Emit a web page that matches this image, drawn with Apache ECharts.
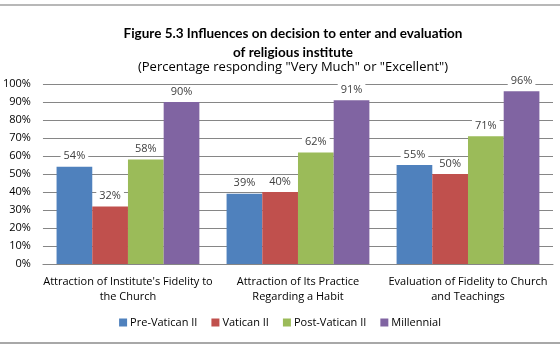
<!DOCTYPE html>
<html>
<head>
<meta charset="utf-8">
<script src="https://cdn.jsdelivr.net/npm/echarts@6/dist/echarts.min.js"></script>
<style>
  html, body { margin: 0; padding: 0; background: #fff; }
  #frame { position: absolute; left: 0; top: 4px; width: 560px; height: 336px;
           border-top: 2px solid #b8b8b8; border-bottom: 2px solid #a8a8a8; }
  #chart { width: 560px; height: 350px; position: absolute; left: 0; top: 0; }
</style>
</head>
<body>
<div id="frame"></div>
<div id="chart"></div>
<script>
var categories = [
  "Attraction of Institute's Fidelity to\nthe Church",
  "Attraction of Its Practice\nRegarding a Habit",
  "Evaluation of Fidelity to Church\nand Teachings"
];
var seriesNames = ["Pre-Vatican II", "Vatican II", "Post-Vatican II", "Millennial"];
var preVatican = [54, 39, 55];
var vatican = [32, 40, 50];
var postVatican = [58, 62, 71];
var millennial = [90, 91, 96];
var colors = ["#4F81BD", "#C0504D", "#9BBB59", "#8064A2"];

var font = "'Open Sans', 'DejaVu Sans', sans-serif";
var titleFont = "Lato, 'Open Sans', sans-serif";
var chart = echarts.init(document.getElementById("chart"));

function bar(name, data, color) {
  return {
    name: name,
    type: "bar",
    data: data,
    barGap: "0%",
    barCategoryGap: "16%",
    itemStyle: { color: color },
    label: {
      show: true,
      position: "top",
      formatter: "{c}%",
      color: "#404040",
      fontSize: 11,
      fontFamily: font,
      backgroundColor: "#fff",
      padding: [1, 3],
      distance: 4
    }
  };
}

chart.setOption({
  animation: false,
  title: {
    text: "Figure 5.3 Influences on decision to enter and evaluation\nof religious institute",
    subtext: "(Percentage responding \"Very Much\" or \"Excellent\")",
    left: 288,
    textAlign: "center",
    top: 19,
    itemGap: -3,
    textStyle: { fontSize: 13.5, fontWeight: "bold", color: "#000", fontFamily: titleFont, lineHeight: 19 },
    subtextStyle: { fontSize: 13, color: "#000", fontFamily: font, lineHeight: 16 }
  },
  legend: {
    data: seriesNames,
    bottom: 17,
    left: "center",
    itemWidth: 8,
    itemHeight: 8,
    itemGap: 14,
    icon: "rect",
    textStyle: { fontSize: 11, color: "#000", fontFamily: font, padding: [0, 0, 0, -2] }
  },
  grid: { left: 38, right: 7, top: 84, bottom: 86 },
  xAxis: {
    type: "category",
    data: categories,
    axisTick: { show: false },
    axisLine: { lineStyle: { color: "#868686" } },
    axisLabel: { color: "#000", fontSize: 11, fontFamily: font, lineHeight: 15, margin: 10, interval: 0 }
  },
  yAxis: {
    type: "value",
    min: 0,
    max: 100,
    interval: 10,
    axisLine: { show: false },
    axisTick: { show: false },
    axisLabel: { formatter: "{value}%", color: "#000", fontSize: 11, fontFamily: font, margin: 12 },
    splitLine: { lineStyle: { color: "#868686" } }
  },
  series: [
    bar(seriesNames[0], preVatican, colors[0]),
    bar(seriesNames[1], vatican, colors[1]),
    bar(seriesNames[2], postVatican, colors[2]),
    bar(seriesNames[3], millennial, colors[3])
  ]
});
</script>
</body>
</html>
